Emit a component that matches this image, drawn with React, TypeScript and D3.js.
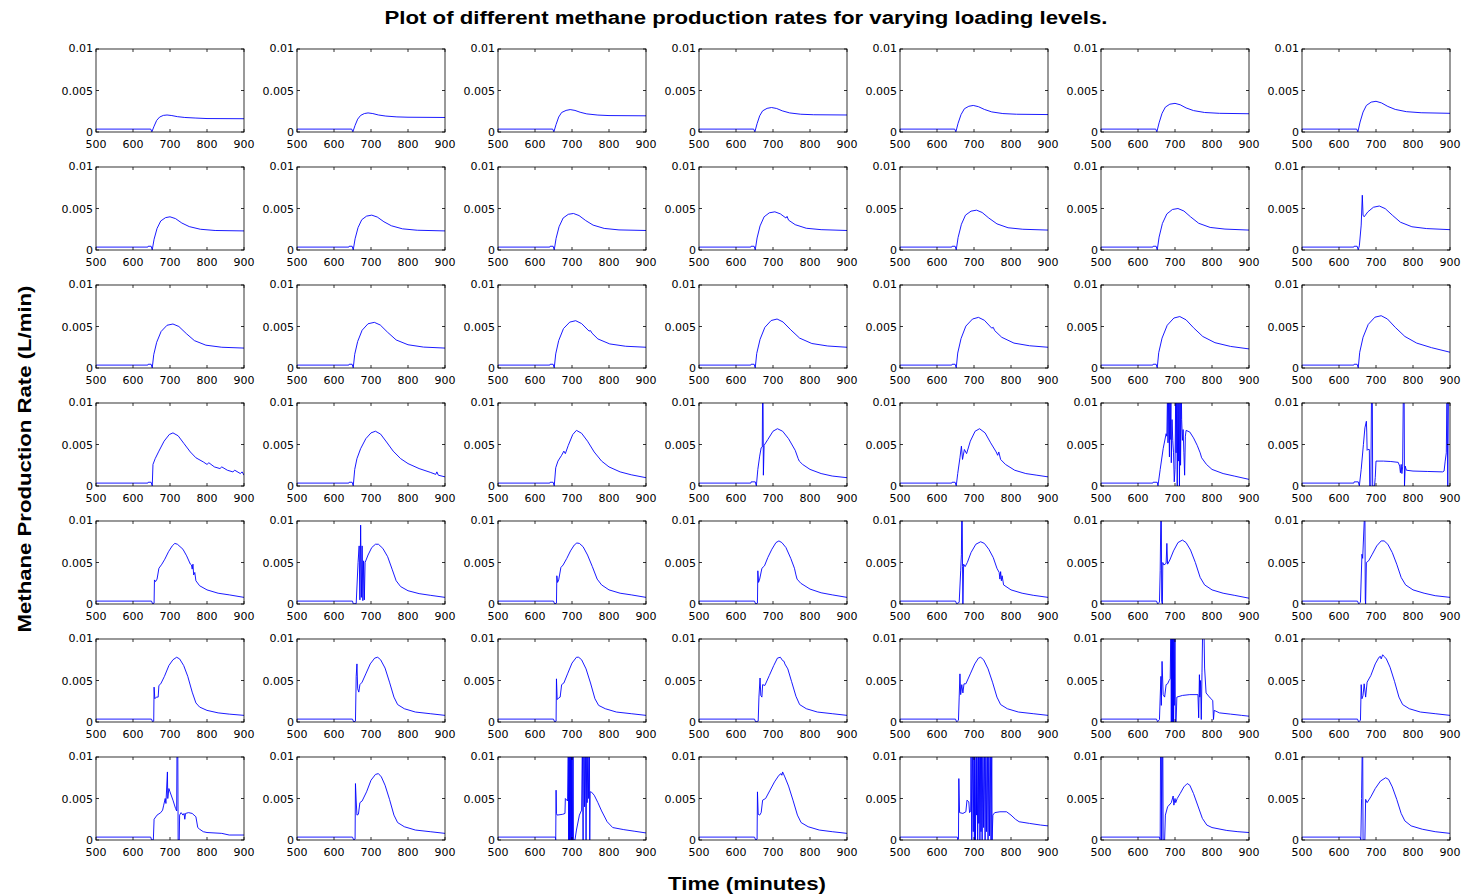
import React from 'react';
import * as d3 from 'd3';

// time axis ticks (minutes) and rate ticks (L/min)
const xTicks = [500, 600, 700, 800, 900];
const yTicks = [0, 0.005, 0.01];
const yTickLabels = ['0', '0.005', '0.01'];

// each panel: flat list of time, rate pairs; rate in 1e-3 L/min (values above 10 are clipped)
const row1 = [
  [500,0.35, 648,0.35, 651,0.02, 657,0.7, 664,1.4, 672,1.8, 682,2.0, 692,2.05, 705,1.98, 720,1.85, 740,1.75, 770,1.68, 800,1.62, 900,1.6],
  [500,0.35, 648,0.35, 651,0.02, 657,0.8, 664,1.55, 672,2.0, 682,2.22, 692,2.3, 705,2.22, 720,2.05, 740,1.92, 770,1.82, 800,1.78, 900,1.75],
  [500,0.35, 648,0.35, 651,0.02, 657,0.9, 664,1.8, 672,2.35, 684,2.6, 695,2.7, 708,2.6, 722,2.38, 740,2.18, 770,2.04, 800,1.98, 900,1.95],
  [500,0.35, 648,0.35, 651,0.02, 657,1.0, 664,1.95, 672,2.55, 684,2.85, 696,2.95, 710,2.83, 725,2.55, 745,2.3, 775,2.14, 810,2.08, 900,2.05],
  [500,0.35, 648,0.35, 651,0.02, 657,1.05, 665,2.1, 674,2.8, 686,3.1, 698,3.2, 712,3.05, 728,2.72, 748,2.42, 778,2.22, 815,2.14, 900,2.1],
  [500,0.35, 648,0.35, 651,0.02, 657,1.1, 665,2.25, 674,3.0, 686,3.35, 700,3.45, 714,3.28, 730,2.9, 750,2.58, 780,2.35, 820,2.25, 900,2.2],
  [500,0.35, 648,0.35, 651,0.02, 657,1.2, 665,2.4, 674,3.2, 687,3.6, 700,3.7, 715,3.5, 732,3.08, 752,2.72, 782,2.45, 822,2.32, 900,2.25],
];

const row2 = [
  [500,0.35, 640,0.35, 641,0.45, 649,0.45, 652,0.02, 657,1.3, 665,2.6, 675,3.5, 688,3.9, 700,4.0, 715,3.78, 732,3.25, 752,2.82, 782,2.5, 822,2.35, 900,2.3],
  [500,0.35, 640,0.35, 641,0.45, 649,0.45, 652,0.02, 657,1.35, 665,2.7, 675,3.65, 688,4.08, 702,4.2, 717,3.97, 735,3.4, 755,2.92, 785,2.55, 825,2.38, 900,2.3],
  [500,0.35, 640,0.35, 641,0.45, 649,0.45, 652,0.02, 657,1.4, 665,2.8, 676,3.85, 690,4.3, 704,4.4, 719,4.15, 737,3.55, 757,3.0, 787,2.6, 827,2.42, 900,2.35],
  [500,0.35, 640,0.35, 641,0.45, 649,0.45, 652,0.02, 657,1.45, 665,2.9, 676,4.0, 690,4.48, 705,4.6, 720,4.35, 735,3.85, 738,4.05, 742,3.6, 760,3.05, 790,2.62, 830,2.45, 900,2.35],
  [500,0.35, 640,0.35, 641,0.45, 649,0.45, 652,0.02, 657,1.5, 666,3.1, 677,4.2, 692,4.68, 707,4.8, 722,4.52, 740,3.85, 762,3.15, 792,2.68, 832,2.5, 900,2.4],
  [500,0.35, 640,0.35, 641,0.45, 649,0.45, 652,0.02, 657,1.55, 666,3.2, 678,4.35, 693,4.88, 708,5.0, 724,4.7, 742,4.0, 764,3.22, 795,2.72, 835,2.52, 900,2.4],
  [500,0.35, 640,0.35, 641,0.45, 649,0.45, 652,0.02, 655,0.5, 660,3.0, 663,6.6, 665,4.2, 668,4.0, 678,4.6, 693,5.15, 709,5.3, 725,4.98, 744,4.2, 766,3.35, 797,2.8, 837,2.58, 900,2.45],
];

const row3 = [
  [500,0.35, 640,0.35, 641,0.45, 649,0.45, 652,0.02, 656,1.6, 664,3.1, 676,4.4, 692,5.15, 708,5.3, 724,5.0, 744,4.15, 766,3.3, 797,2.75, 840,2.5, 900,2.4],
  [500,0.35, 640,0.35, 641,0.45, 649,0.45, 652,0.02, 656,1.65, 664,3.2, 676,4.55, 692,5.33, 709,5.5, 725,5.18, 745,4.3, 768,3.38, 800,2.8, 842,2.52, 900,2.4],
  [500,0.35, 640,0.35, 641,0.45, 649,0.45, 652,0.02, 656,1.7, 664,3.3, 677,4.75, 694,5.53, 710,5.7, 726,5.35, 746,4.45, 750,4.5, 754,4.2, 770,3.5, 802,2.9, 845,2.62, 900,2.5],
  [500,0.35, 640,0.35, 641,0.45, 649,0.45, 652,0.02, 656,1.75, 665,3.45, 678,4.9, 695,5.72, 711,5.9, 727,5.55, 748,4.6, 772,3.6, 805,2.95, 848,2.65, 900,2.5],
  [500,0.35, 640,0.35, 641,0.45, 649,0.45, 652,0.02, 656,1.8, 665,3.55, 678,5.05, 696,5.9, 712,6.1, 728,5.75, 748,4.8, 752,4.9, 756,4.5, 775,3.7, 808,3.0, 850,2.68, 900,2.5],
  [500,0.35, 640,0.35, 641,0.45, 649,0.45, 652,0.02, 656,1.85, 665,3.6, 679,5.15, 697,6.02, 713,6.2, 730,5.8, 750,4.85, 775,3.8, 808,3.05, 850,2.6, 900,2.3],
  [500,0.35, 640,0.35, 641,0.45, 649,0.45, 652,0.02, 656,1.9, 665,3.7, 679,5.25, 697,6.12, 714,6.3, 731,5.9, 752,4.9, 778,3.8, 810,3.0, 850,2.45, 900,1.9],
];

const row4 = [
  [500,0.35, 640,0.35, 641,0.45, 649,0.45, 652,0.02, 654,2.6, 660,3.3, 670,4.2, 684,5.4, 698,6.2, 708,6.4, 722,6.05, 738,5.1, 755,4.1, 770,3.4, 790,2.9, 800,2.6, 805,2.8, 820,2.3, 835,2.1, 840,2.3, 855,1.9, 870,1.7, 875,1.9, 890,1.5, 895,1.7, 900,1.3],
  [500,0.35, 640,0.35, 641,0.45, 649,0.45, 652,0.02, 656,2.0, 662,3.3, 672,4.5, 686,5.7, 700,6.4, 712,6.6, 726,6.25, 742,5.3, 760,4.2, 780,3.3, 800,2.7, 830,2.1, 860,1.65, 875,1.4, 878,1.7, 882,1.3, 900,1.1],
  [500,0.35, 640,0.35, 641,0.45, 649,0.45, 652,0.02, 656,2.2, 662,3.0, 672,3.7, 678,4.2, 682,3.9, 690,4.9, 702,6.2, 712,6.7, 726,6.35, 742,5.4, 760,4.1, 780,3.0, 800,2.3, 830,1.7, 860,1.35, 900,1.0],
  [500,0.35, 640,0.35, 641,0.5, 652,0.5, 655,0.02, 659,2.0, 664,3.6, 668,4.6, 671,4.7, 672,12, 673,12, 674,1.3, 676,4.9, 686,5.6, 700,6.6, 712,6.9, 726,6.6, 742,5.7, 760,4.3, 768,3.3, 771,3.0, 780,2.6, 800,2.0, 830,1.5, 860,1.2, 900,1.0],
  [500,0.35, 640,0.35, 641,0.45, 649,0.45, 652,0.02, 656,1.5, 662,3.4, 666,4.8, 669,3.2, 674,4.4, 680,3.9, 690,5.4, 703,6.6, 715,6.9, 730,6.4, 745,5.2, 760,4.1, 764,3.7, 767,4.1, 772,3.2, 785,2.6, 810,1.9, 840,1.5, 870,1.3, 900,1.1],
  [500,0.35, 640,0.35, 641,0.45, 652,0.45, 654,0.02, 660,2.0, 668,4.5, 676,6.3, 678,6.0, 680,12, 681,5.2, 683,12, 684,6.2, 685,3.5, 686,12, 687,5.6, 689,10.5, 690,2.8, 692,8.0, 694,5.5, 696,4.0, 698,0.5, 700,2.0, 702,12, 703,4.0, 705,12, 706,0, 708,12, 709,3.0, 711,12, 712,0, 714,12, 715,2.5, 717,12, 718,8.0, 720,5.5, 722,6.8, 724,4.0, 726,1.3, 728,6.0, 730,6.7, 740,6.5, 750,5.8, 760,4.9, 768,4.0, 772,3.4, 785,2.6, 800,2.0, 830,1.5, 860,1.2, 900,0.8],
  [500,0.35, 640,0.35, 641,0.5, 652,0.5, 655,0.02, 660,2.0, 666,5.0, 670,7.0, 674,7.8, 675,6.5, 676,4.3, 678,4.4, 682,4.4, 683,0, 686,0, 688,12, 690,12, 691,0, 696,0, 698,1.0, 700,3.0, 720,3.0, 740,2.95, 760,2.85, 764,2.4, 766,1.6, 768,2.6, 770,1.5, 772,2.3, 774,12, 776,12, 777,0, 779,2.4, 782,1.9, 800,1.8, 840,1.75, 880,1.7, 884,1.8, 887,3.0, 890,4.0, 892,12, 894,0, 896,12, 900,12],
];

const row5 = [
  [500,0.35, 650,0.35, 653,0.02, 657,0.1, 658,2.9, 661,2.7, 665,3.0, 670,4.3, 678,4.8, 686,5.4, 696,6.3, 706,7.0, 713,7.3, 720,7.2, 735,6.6, 745,5.8, 755,4.8, 758,4.7, 760,4.2, 762,4.8, 764,3.5, 767,3.8, 770,2.8, 780,2.2, 800,1.7, 830,1.3, 860,1.1, 900,0.8],
  [500,0.35, 650,0.35, 652,0.02, 660,0.05, 665,5.0, 668,7.0, 670,0.5, 672,9.5, 674,0.8, 676,7.0, 678,0.4, 680,5.2, 682,0.5, 684,5.0, 692,5.9, 702,6.8, 712,7.2, 720,7.2, 732,6.7, 745,5.7, 757,4.2, 768,2.8, 780,2.1, 800,1.6, 830,1.25, 860,1.05, 900,0.8],
  [500,0.35, 650,0.35, 653,0.02, 658,0.1, 659,3.4, 661,2.6, 664,2.9, 670,4.4, 676,4.7, 686,5.5, 696,6.4, 706,7.1, 713,7.35, 720,7.3, 730,6.9, 742,5.9, 755,4.5, 768,3.0, 780,2.3, 800,1.7, 830,1.3, 860,1.1, 900,0.8],
  [500,0.35, 650,0.35, 653,0.02, 658,0.1, 659,4.0, 661,2.6, 664,3.0, 670,4.3, 677,4.6, 686,5.6, 697,6.6, 708,7.4, 716,7.6, 724,7.4, 735,6.8, 748,5.5, 758,4.3, 762,3.5, 765,3.0, 775,2.5, 800,1.8, 830,1.35, 860,1.1, 900,0.8],
  [500,0.35, 650,0.35, 653,0.02, 660,0.2, 664,4.0, 666,6.0, 667,12, 668,12, 669,4.5, 670,0, 672,4.8, 676,4.5, 682,5.0, 692,6.2, 705,7.2, 718,7.5, 728,7.3, 740,6.6, 752,5.6, 762,4.3, 768,3.8, 770,3.0, 772,3.9, 774,2.8, 776,3.4, 780,2.3, 800,1.7, 830,1.3, 860,1.05, 900,0.8],
  [500,0.35, 650,0.35, 653,0.02, 658,0.2, 660,4.0, 662,12, 663,12, 664,0.3, 666,0, 667,5.0, 670,4.7, 676,4.9, 678,7.3, 680,4.8, 686,5.3, 696,6.4, 708,7.4, 720,7.7, 730,7.4, 742,6.5, 755,5.0, 768,3.2, 780,2.3, 800,1.7, 830,1.3, 860,1.05, 900,0.7],
  [500,0.35, 650,0.35, 653,0.02, 658,0.2, 662,6.0, 664,5.5, 668,9.8, 669,12, 670,12, 671,0.5, 672,0, 674,5.0, 680,5.2, 690,6.0, 702,7.0, 714,7.6, 722,7.6, 732,7.2, 744,6.2, 756,4.8, 768,3.2, 780,2.3, 800,1.7, 830,1.3, 860,1.0, 900,0.8],
];

const row6 = [
  [500,0.35, 650,0.35, 653,0.02, 656,0.1, 657,4.2, 659,2.8, 663,3.0, 668,3.0, 670,4.4, 675,4.6, 685,5.5, 697,6.8, 708,7.5, 718,7.8, 726,7.6, 737,6.8, 748,5.5, 760,3.6, 770,2.3, 780,1.8, 800,1.4, 830,1.1, 860,0.95, 900,0.8],
  [500,0.35, 650,0.35, 653,0.02, 658,0.1, 660,5.5, 662,7.0, 664,4.0, 667,3.6, 670,4.5, 676,4.8, 686,5.8, 698,7.0, 710,7.7, 718,7.8, 726,7.5, 738,6.5, 750,4.8, 762,3.0, 772,2.1, 790,1.6, 820,1.2, 860,1.0, 900,0.8],
  [500,0.35, 650,0.35, 653,0.02, 657,0.1, 658,5.2, 660,2.7, 664,2.9, 668,3.0, 672,4.5, 678,4.7, 688,5.8, 700,7.1, 712,7.8, 718,7.8, 726,7.5, 738,6.4, 750,4.7, 762,2.8, 772,2.0, 790,1.6, 820,1.2, 860,1.0, 900,0.8],
  [500,0.35, 650,0.35, 653,0.02, 660,0.1, 662,3.0, 665,5.3, 667,3.2, 670,3.0, 672,4.5, 678,4.4, 690,5.6, 702,6.8, 712,7.7, 720,7.8, 726,7.4, 730,7.3, 732,7.0, 740,6.4, 750,4.9, 762,3.1, 772,2.1, 790,1.6, 820,1.2, 860,1.0, 900,0.8],
  [500,0.35, 650,0.35, 653,0.02, 658,0.2, 660,3.0, 662,5.8, 664,3.3, 667,4.5, 670,3.5, 673,4.6, 678,4.6, 690,5.8, 702,7.0, 712,7.7, 718,7.8, 726,7.5, 738,6.4, 750,4.8, 762,3.0, 772,2.1, 790,1.6, 820,1.2, 860,1.0, 900,0.8],
  [500,0.35, 650,0.35, 653,0.02, 658,0.3, 660,3.0, 662,5.5, 663,2.0, 665,7.3, 668,3.3, 672,3.0, 676,4.5, 680,4.6, 684,5.0, 687,5.2, 689,12, 690,0, 691,12, 692,0, 693,12, 694,0, 695,12, 696,0, 697,12, 698,2, 700,12, 701,0, 703,0, 705,3.0, 720,3.2, 740,3.3, 762,3.3, 764,0.5, 766,5.7, 767,3.0, 769,5.0, 771,0.3, 773,6.0, 775,12, 778,12, 780,6.5, 784,3.5, 795,2.9, 802,2.6, 804,0.3, 806,1.4, 820,1.1, 850,0.95, 880,0.8, 900,0.7],
  [500,0.35, 650,0.35, 653,0.02, 658,0.2, 660,4.5, 662,2.8, 665,3.2, 668,4.6, 672,3.0, 676,4.8, 686,5.6, 698,7.0, 708,7.8, 712,7.9, 714,7.6, 718,8.1, 722,7.9, 728,7.6, 738,6.6, 750,4.9, 762,3.0, 772,2.1, 790,1.6, 820,1.2, 860,1.0, 900,0.8],
];

const row7 = [
  [500,0.35, 648,0.35, 650,0.02, 655,0.02, 657,2.5, 665,3.0, 675,3.3, 680,3.6, 683,4.2, 687,5.0, 689,4.4, 693,8.2, 694,5.0, 697,6.2, 700,5.8, 708,4.8, 715,3.8, 718,3.5, 719,12, 721,12, 722,0, 725,0, 726,3.0, 730,3.3, 735,3.0, 738,3.2, 740,2.5, 742,3.2, 750,3.3, 760,3.2, 765,3.0, 770,2.8, 775,1.5, 780,1.3, 790,1.0, 800,0.9, 840,0.8, 860,0.6, 900,0.6],
  [500,0.35, 650,0.35, 653,0.02, 657,0.1, 658,6.8, 660,4.7, 662,3.0, 666,3.1, 670,4.5, 676,4.7, 688,5.8, 700,7.2, 712,7.9, 720,8.0, 728,7.6, 738,6.6, 750,4.9, 762,3.0, 772,2.1, 790,1.6, 820,1.2, 860,1.0, 900,0.8],
  [500,0.35, 655,0.35, 656,0.02, 657,6.0, 658,3.2, 660,3.0, 675,3.1, 681,3.2, 682,5.0, 688,4.7, 690,12, 691,0, 692,12, 693,0, 694,12, 695,0, 696,12, 697,0, 698,12, 699,0, 700,12, 701,0, 703,12, 704,0, 708,0, 712,1.2, 720,3.0, 726,3.6, 728,12, 730,0, 731,12, 733,12, 734,4, 736,12, 738,0, 740,12, 741,4.5, 743,12, 745,5.0, 747,12, 748,0, 749,5.8, 752,5.8, 760,5.4, 770,4.5, 780,3.5, 795,2.2, 810,1.5, 840,1.25, 870,1.05, 900,0.85],
  [500,0.35, 650,0.35, 653,0.02, 657,0.1, 658,5.8, 660,3.1, 664,3.0, 668,3.3, 672,4.8, 680,5.0, 692,6.0, 704,7.0, 716,7.8, 722,8.0, 724,7.8, 726,8.2, 732,7.6, 742,6.5, 754,4.8, 766,3.0, 776,2.1, 795,1.6, 825,1.2, 860,1.0, 900,0.8],
  [500,0.35, 655,0.35, 656,0.02, 658,0.1, 659,7.4, 661,3.3, 670,3.2, 678,3.4, 681,4.8, 686,4.6, 688,3.3, 691,3.5, 692,12, 694,0, 696,12, 698,1, 700,12, 701,0, 702,12, 704,0, 706,12, 707,3, 708,12, 710,0, 712,12, 713,2, 714,12, 716,0, 718,12, 719,1, 720,12, 722,0, 724,12, 726,1.5, 728,12, 730,0, 732,12, 734,1, 736,12, 738,0, 740,12, 742,0.5, 744,12, 746,0, 748,12, 749,0, 751,3.0, 756,3.3, 770,3.4, 788,3.4, 800,3.0, 812,2.5, 822,2.2, 850,2.0, 880,1.8, 900,1.7],
  [500,0.35, 658,0.35, 660,0.02, 661,12, 663,12, 664,0, 666,12, 667,12, 668,0, 672,0, 674,3.0, 680,4.0, 690,4.5, 695,5.3, 697,4.2, 700,5.0, 702,4.5, 706,5.0, 714,5.6, 724,6.4, 733,6.8, 740,6.6, 750,5.6, 762,4.1, 774,2.6, 786,1.8, 800,1.5, 840,1.15, 870,1.0, 900,0.9],
  [500,0.35, 657,0.35, 659,0.02, 661,5.0, 663,12, 664,12, 665,0, 670,0, 672,4.9, 676,4.5, 686,5.2, 698,6.2, 712,7.1, 726,7.5, 734,7.3, 744,6.4, 756,4.9, 768,3.2, 778,2.3, 795,1.7, 825,1.3, 860,1.0, 900,0.8],
];

const rows = [row1, row2, row3, row4, row5, row6, row7];

const W = 1465;
const H = 895;
const boxW = 148;
const boxH = 83;
const colLeft = [96, 297, 498, 699, 900, 1101, 1302];
const rowTop = [49, 167, 285, 403, 521, 639, 757];
const tickLen = 3;
const font = '"DejaVu Sans", "Liberation Sans", Arial, sans-serif';
const labelFont = '"Liberation Sans", Arial, Helvetica, sans-serif';

const x = d3.scaleLinear().domain([500, 900]).range([0, boxW]);
const y = d3.scaleLinear().domain([0, 0.01]).range([boxH, 0]);

const toPoints = (flat: number[]) => {
  const pts: [number, number][] = [];
  for (let i = 0; i < flat.length; i += 2) pts.push([flat[i], flat[i + 1] / 1000]);
  return pts;
};

const line = d3.line<[number, number]>()
  .x(d => x(d[0]))
  .y(d => y(d[1]));

const Panel = ({ data, left, top }: { data: number[]; left: number; top: number }) => (
  <g transform={`translate(${left},${top})`}>
    <rect width={boxW} height={boxH} fill="#fff" />
    <path d={line(toPoints(data)) || ''} fill="none" stroke="#0000ff" strokeWidth={0.9} clipPath="url(#box)" />
    <rect width={boxW} height={boxH} fill="none" stroke="#000" strokeWidth={0.8} />
    {xTicks.map(t => (
      <g key={'x' + t}>
        <line x1={x(t)} x2={x(t)} y1={boxH} y2={boxH - tickLen} stroke="#000" strokeWidth={0.8} />
        <line x1={x(t)} x2={x(t)} y1={0} y2={tickLen} stroke="#000" strokeWidth={0.8} />
        <text x={x(t)} y={boxH + 16} textAnchor="middle" fontSize={11} fontFamily={font}>{t}</text>
      </g>
    ))}
    {yTicks.map((t, i) => (
      <g key={'y' + t}>
        <line x1={0} x2={tickLen} y1={y(t)} y2={y(t)} stroke="#000" strokeWidth={0.8} />
        <line x1={boxW} x2={boxW - tickLen} y1={y(t)} y2={y(t)} stroke="#000" strokeWidth={0.8} />
        <text x={-3} y={y(t) + (i === 2 ? 3 : 4)} textAnchor="end" fontSize={11} fontFamily={font}>{yTickLabels[i]}</text>
      </g>
    ))}
  </g>
);

export default function App() {
  return (
    <svg width={W} height={H} style={{ position: 'absolute', left: 0, top: 0, background: '#fff' }}>
      <defs>
        <clipPath id="box">
          <rect width={boxW} height={boxH} />
        </clipPath>
      </defs>
      <rect width={W} height={H} fill="#fff" />
      <text x={746} y={24} textAnchor="middle" fontSize={18} fontWeight="bold" fontFamily={labelFont}
        textLength={723} lengthAdjust="spacingAndGlyphs">
        Plot of different methane production rates for varying loading levels.
      </text>
      {rows.map((row, r) =>
        row.map((data, c) => (
          <Panel key={r + '-' + c} data={data} left={colLeft[c]} top={rowTop[r]} />
        ))
      )}
      <text transform="translate(31,459) rotate(-90)" textAnchor="middle" fontSize={18} fontWeight="bold" fontFamily={labelFont}
        textLength={347} lengthAdjust="spacingAndGlyphs">
        Methane Production Rate (L/min)
      </text>
      <text x={747} y={890} textAnchor="middle" fontSize={18} fontWeight="bold" fontFamily={labelFont}
        textLength={158} lengthAdjust="spacingAndGlyphs">
        Time (minutes)
      </text>
    </svg>
  );
}
